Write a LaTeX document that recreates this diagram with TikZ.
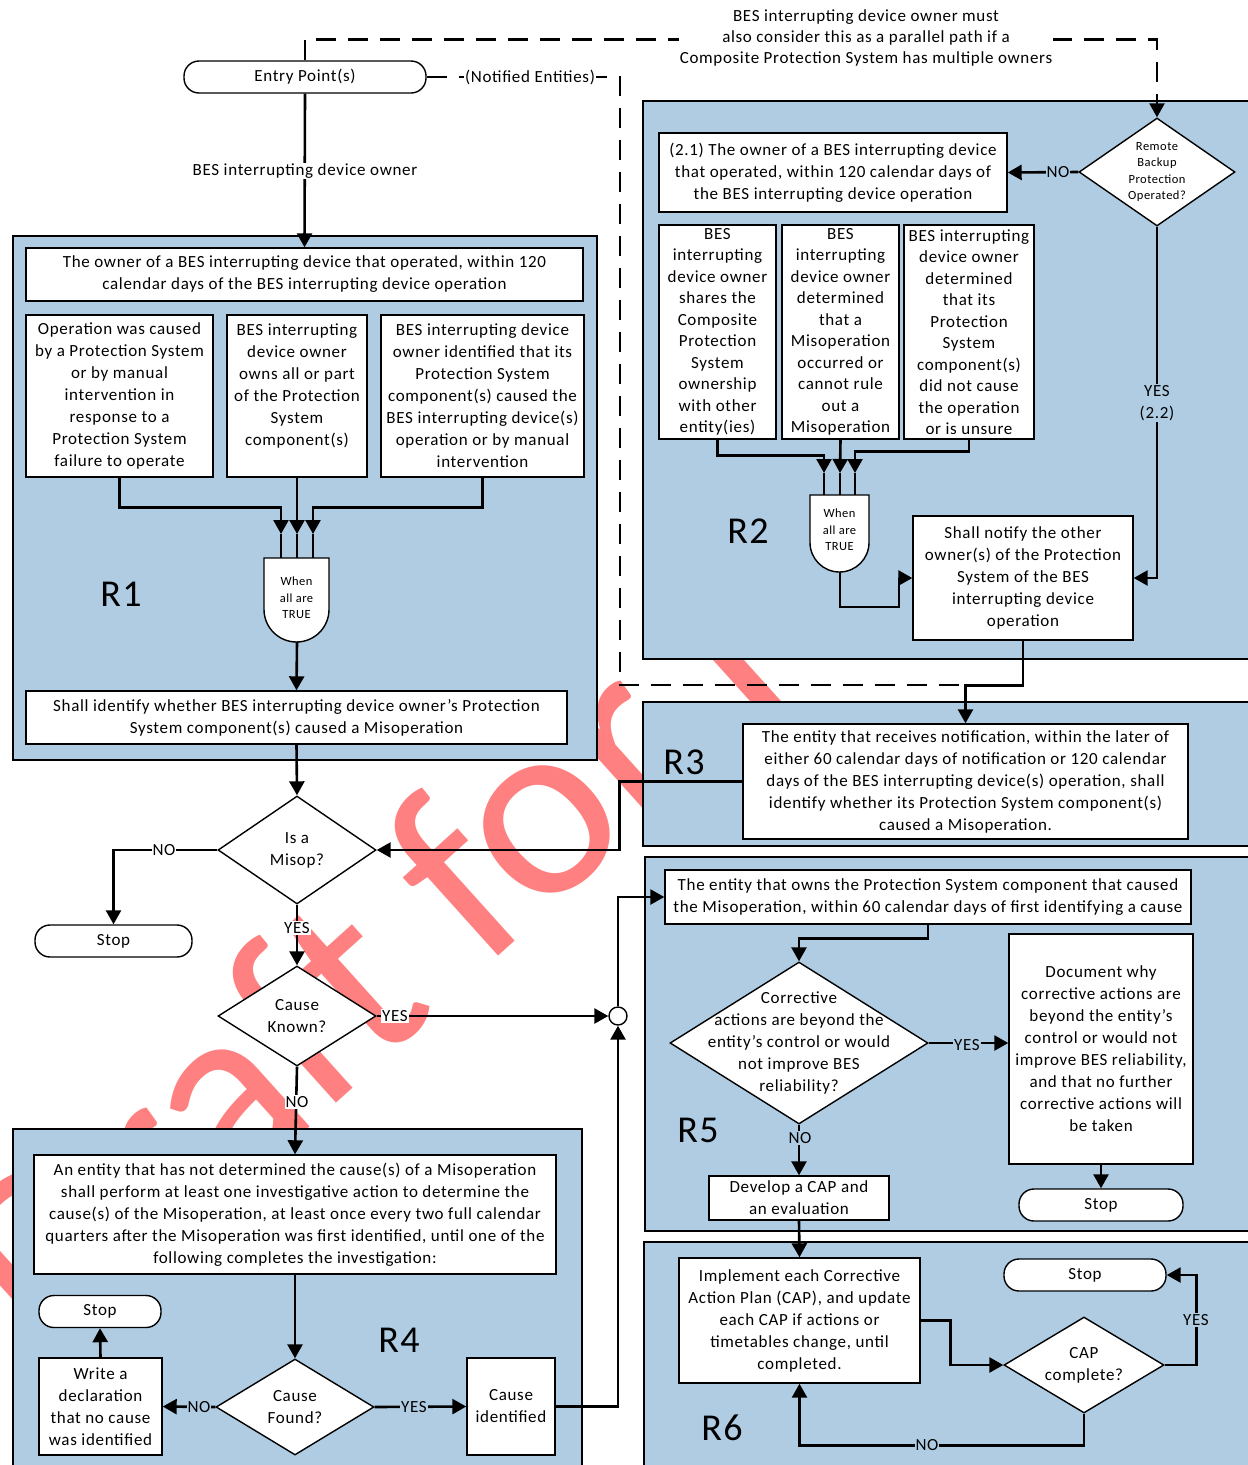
\documentclass[tikz,border=0pt]{standalone}
\usepackage{fontspec}
\setmainfont{Carlito}[LetterSpace=4]
\newfontfamily\filigranafont{Carlito}
\usetikzlibrary{arrows.meta,shapes.geometric}
\definecolor{azzurro}{RGB}{175,204,227}
\definecolor{filigrana}{RGB}{255,128,128}

\begin{document}
\begin{tikzpicture}[x=1pt, y=-1pt,
        testo/.style={font=\fontsize{17pt}{22pt}\selectfont, align=center},
        scatola/.style={testo, draw, fill=white, line width=1.4pt, inner sep=2pt},
        colonna/.style={scatola, font=\fontsize{17pt}{21.5pt}\selectfont, inner sep=0.5pt, minimum width=117pt, minimum height=214pt},
        fine/.style={testo, draw, fill=white, line width=1.4pt, rounded corners=15pt, minimum height=32pt},
        rombo/.style={diamond, draw, fill=white, line width=1.4pt, inner sep=0pt},
        piccolo/.style={font=\fontsize{12.5pt}{16.5pt}\selectfont, align=center},
        area/.style={draw, fill=azzurro, line width=1.4pt},
        erre/.style={font=\fontsize{38pt}{40pt}\selectfont},
        linea/.style={line width=2.6pt},
        freccia/.style={linea, -{Triangle[length=14pt,width=15pt]}},
        tratto/.style={linea, dash pattern=on 20pt off 12pt},
        etichetta/.style={testo, fill=white, inner sep=1pt},
        etichettab/.style={etichetta, fill=azzurro}]
        \useasboundingbox (0,0) rectangle (1248,1465);

        % filigrana sotto a tutto
        \node[font=\filigranafont\fontsize{260pt}{260pt}\selectfont, text=filigrana, rotate=42, anchor=base west] (bozza) at (44,1366) {Draft for Review};

        % Regioni R1 ... R6
        \draw[area] (13,236) rectangle (597,760);
        \draw[area] (643,101) rectangle (1260,659);
        \draw[area] (643,702) rectangle (1260,846);
        \draw[area] (13,1129) rectangle (582,1475);
        \draw[area] (645,857) rectangle (1260,1231);
        \draw[area] (644,1242) rectangle (1260,1475);
        \node[erre] (r1) at (121,594) {R1};
        \node[erre] (r2) at (748,531) {R2};
        \node[erre] (r3) at (684,762) {R3};
        \node[erre] (r4) at (399,1340) {R4};
        \node[erre] (r5) at (698,1130) {R5};
        \node[erre] (r6) at (722,1428) {R6};

        % Ingresso
        \node[fine, minimum width=242pt] (entry) at (305,77) {Entry Point(s)};

        % R1
        \node[scatola, minimum width=557pt, minimum height=53pt] (r1top) at (304.5,274.5) {The owner of a BES interrupting device that operated, within 120\\calendar days of the BES interrupting device operation};
        \node[scatola, minimum width=187pt, minimum height=162pt] (r1a) at (119.5,396) {Operation was caused\\by a Protection System\\or by manual\\intervention in\\response to a\\Protection System\\failure to operate};
        \node[scatola, minimum width=140pt, minimum height=162pt] (r1b) at (297,396) {BES interrupting\\device owner\\owns all or part\\of the Protection\\System\\component(s)\\\mbox{}};
        \node[scatola, minimum width=203pt, minimum height=162pt] (r1c) at (482.5,396) {BES interrupting device\\owner identified that its\\Protection System\\component(s) caused the\\BES interrupting device(s)\\operation or by manual\\intervention};
        \draw[line width=1.4pt, fill=white] (264,558) -- (329,558) -- (329,609.5) .. controls (329,627.4) and (314.4,642) .. (296.5,642) .. controls (278.6,642) and (264,627.4) .. (264,609.5) -- cycle;
        \node[piccolo] (porta1) at (296.5,598) {When\\all are\\TRUE};
        \coordinate (p1a) at (281,534);
        \coordinate (p1b) at (297,534);
        \coordinate (p1c) at (313,534);
        \coordinate (p1out) at (297,642);
        \node[scatola, minimum width=541pt, minimum height=53pt] (r1bot) at (296.5,717.5) {Shall identify whether BES interrupting device owner’s Protection\\System component(s) caused a Misoperation};

        % Decisioni centrali
        \node[rombo, minimum width=158pt, minimum height=108pt] (misop) at (297,850) {};
        \node[testo] (misopt) at (misop) {Is a\\Misop?};
        \node[fine, minimum width=157pt] (stop1) at (113.5,941) {Stop};
        \node[rombo, minimum width=158pt, minimum height=100pt] (known) at (297,1016) {};
        \node[testo] (knownt) at (known) {Cause\\Known?};
        \node[circle, draw, fill=white, line width=1.4pt, minimum size=18pt, inner sep=0pt] (giunto) at (618,1016) {};

        % R4
        \node[scatola, minimum width=522pt, minimum height=119pt] (r4top) at (295,1214.5) {An entity that has not determined the cause(s) of a Misoperation\\shall perform at least one investigative action to determine the\\cause(s) of the Misoperation, at least once every two full calendar\\quarters after the Misoperation was first identified, until one of the\\following completes the investigation:};
        \node[rombo, minimum width=158pt, minimum height=96pt] (found) at (295,1407) {};
        \node[testo] (foundt) at (found) {Cause\\Found?};
        \node[scatola, minimum width=123pt, minimum height=97pt] (write) at (100.5,1406.5) {Write a\\declaration\\that no cause\\was identified};
        \node[fine, minimum width=122pt] (stop2) at (100,1311.5) {Stop};
        \node[scatola, minimum width=88pt, minimum height=97pt] (causeid) at (511,1406.5) {Cause\\identified};

        % R2
        \node[rombo, minimum width=156pt, minimum height=108pt] (remote) at (1157,172) {};
        \node[piccolo] (remotet) at (remote) {Remote\\Backup\\Protection\\Operated?};
        \node[scatola, minimum width=348pt, minimum height=79pt] (box21) at (833,172.5) {(2.1) The owner of a BES interrupting device\\that operated, within 120 calendar days of\\the BES interrupting device operation};
        \node[colonna] (r2a) at (717.5,332) {BES\\interrupting\\device owner\\shares the\\Composite\\Protection\\System\\ownership\\with other\\entity(ies)};
        \node[colonna] (r2b) at (840.5,332) {BES\\interrupting\\device owner\\determined\\that a\\Misoperation\\occurred or\\cannot rule\\out a\\Misoperation};
        \node[colonna, minimum width=130pt] (r2c) at (969,332) {BES interrupting\\device owner\\determined\\that its\\Protection\\System\\component(s)\\did not cause\\the operation\\or is unsure};
        \draw[line width=1.4pt, fill=white] (810,495) -- (869,495) -- (869,542.5) .. controls (869,558.8) and (855.8,572) .. (839.5,572) .. controls (823.2,572) and (810,558.8) .. (810,542.5) -- cycle;
        \node[piccolo] (porta2) at (839.5,530) {When\\all are\\TRUE};
        \coordinate (p2a) at (824,473);
        \coordinate (p2b) at (840,473);
        \coordinate (p2c) at (855,473);
        \coordinate (p2out) at (840,572);
        \node[scatola, minimum width=220pt, minimum height=124pt] (notify) at (1023,578) {Shall notify the other\\owner(s) of the Protection\\System of the BES\\interrupting device\\operation};

        % R3
        \node[scatola, minimum width=445pt, minimum height=115pt] (r3box) at (965.5,781.5) {The entity that receives notification, within the later of\\either 60 calendar days of notification or 120 calendar\\days of the BES interrupting device(s) operation, shall\\identify whether its Protection System component(s)\\caused a Misoperation.};

        % R5
        \node[scatola, minimum width=526pt, minimum height=54pt] (r5top) at (928,897) {The entity that owns the Protection System component that caused\\the Misoperation, within 60 calendar days of first identifying a cause};
        \node[rombo, minimum width=258pt, minimum height=162pt] (corr) at (799,1043) {};
        \node[testo] (corrt) at (corr) {Corrective\\actions are beyond the\\entity’s control or would\\not improve BES\\reliability?};
        \node[scatola, minimum width=184pt, minimum height=230pt] (doc) at (1101,1049) {Document why\\corrective actions are\\beyond the entity’s\\control or would not\\improve BES reliability,\\and that no further\\corrective actions will\\be taken};
        \node[fine, minimum width=164pt] (stop3) at (1101,1205) {Stop};
        \node[scatola, minimum width=180pt, minimum height=44pt] (develop) at (799,1198) {Develop a CAP and\\an evaluation};

        % R6
        \node[scatola, minimum width=241pt, minimum height=125pt] (implement) at (799.5,1320.5) {Implement each Corrective\\Action Plan (CAP), and update\\each CAP if actions or\\timetables change, until\\completed.};
        \node[rombo, minimum width=160pt, minimum height=96pt] (cap) at (1084,1365) {};
        \node[testo] (capt) at (cap) {CAP\\complete?};
        \node[fine, minimum width=162pt] (stop4) at (1085,1275) {Stop};

        % Collegamenti tratteggiati
        \draw[tratto, -{Triangle[length=14pt,width=15pt]}] (entry.north) -- ++(0,-21) -| (remote.north);
        \coordinate (angolo) at (620,685);
        \draw[tratto] (entry.east) -| (angolo) -- (angolo -| r3box.north);

        % Collegamenti R1
        \draw[freccia] (entry.south) -- (r1top.north);
        \draw[freccia] (r1a.south) -- ++(0,30) -| (p1a);
        \draw[freccia] (r1b.south) -- (p1b);
        \draw[freccia] (r1c.south) -- ++(0,30) -| (p1c);
        \draw[linea] (p1a) -- ++(0,24);
        \draw[linea] (p1b) -- ++(0,24);
        \draw[linea] (p1c) -- ++(0,24);
        \draw[freccia] (p1out) -- (r1bot.north);
        \draw[freccia] (r1bot.south) -- (misop.north);
        \draw[freccia] (misop.west) -| (stop1.north);
        \draw[freccia] (misop.south) -- (known.north);
        \draw[freccia] (known.east) -- (giunto.west);
        \draw[freccia] (known.south) -- (r4top.north);
        \draw[freccia] (r3box.west) -- ++(-123,0) |- (misop.east);
        \draw[freccia] (giunto.north) |- (r5top.west);
        \draw[freccia] (causeid.east) -| (giunto.south);

        % Collegamenti R4
        \draw[freccia] (r4top.south) -- (found.north);
        \draw[freccia] (found.west) -- (write.east);
        \draw[freccia] (write.north) -- (stop2.south);
        \draw[freccia] (found.east) -- (causeid.west);

        % Collegamenti R2 e R3
        \draw[freccia] (remote.west) -- (box21.east);
        \draw[freccia] (remote.south) |- (notify.east);
        \draw[freccia] (r2a.south) -- ++(0,16) -| (p2a);
        \draw[freccia] (r2b.south) -- (p2b);
        \draw[freccia] (r2c.south) -- ++(0,12) -| (p2c);
        \draw[linea] (p2a) -- ++(0,22);
        \draw[linea] (p2b) -- ++(0,22);
        \draw[linea] (p2c) -- ++(0,22);
        \draw[freccia] (p2out) -- ++(0,35) -- ++(59,0) |- (notify.west);
        \draw[freccia] (notify.south) -- ++(0,45) -| (r3box.north);

        % Collegamenti R5 e R6
        \draw[freccia] (r5top.south) -- ++(0,14) -| (corr.north);
        \draw[freccia] (corr.east) -- (corr.east -| doc.west);
        \draw[freccia] (doc.south) -- (stop3.north);
        \draw[freccia] (corr.south) -- (develop.north);
        \draw[freccia] (develop.south) -- (implement.north);
        \draw[freccia] (implement.east) -- ++(30,0) |- (cap.west);
        \draw[freccia] (cap.east) -- ++(32,0) |- (stop4.east);
        \draw[freccia] (cap.south) -- ++(0,32) -| (implement.south);

        % Etichette sulle linee
        \node[etichetta, font=\fontsize{17pt}{21pt}\selectfont] (nota) at (866,38) {BES interrupting device owner must\\also consider this as a parallel path if a\\Composite Protection System has multiple owners};
        \node[etichetta] (notif) at (530,77) {(Notified Entities)};
        \node[etichetta] (owner) at (305,171) {BES interrupting device owner};
        \node[etichetta] (no1) at (164,850) {NO};
        \node[etichetta] (si1) at (297,928) {YES};
        \node[etichetta] (si2) at (395,1016) {YES};
        \node[etichetta] (no2) at (297,1102) {NO};
        \node[etichettab] (no3) at (199,1407) {NO};
        \node[etichettab] (si3) at (414,1407) {YES};
        \node[etichettab] (no4) at (1058,172) {NO};
        \node[etichettab] (si4) at (1157,403) {YES\\(2.2)};
        \node[etichettab] (si5) at (967,1045) {YES};
        \node[etichettab] (no5) at (800,1138) {NO};
        \node[etichettab] (si6) at (1196,1320) {YES};
        \node[etichettab] (no6) at (927,1445) {NO};
\end{tikzpicture}
\end{document}
